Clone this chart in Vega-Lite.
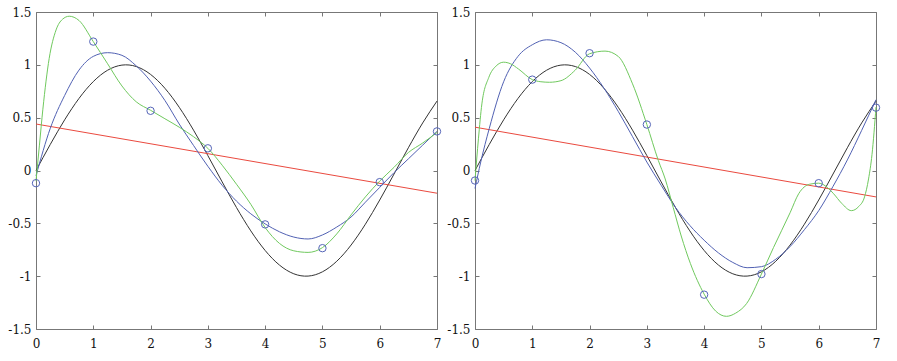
{
  "$schema": "https://vega.github.io/schema/vega-lite/v6.json",
  "background": "white",
  "padding": {"left": 7, "top": 6, "right": 2, "bottom": 2},
  "spacing": 3,
  "config": {
    "view": {"stroke": null},
    "font": "DejaVu Serif",
    "axis": {
      "labelFont": "DejaVu Serif",
      "labelFontSize": 12,
      "labelColor": "#111111",
      "domainColor": "#777777",
      "tickColor": "#777777",
      "tickSize": -4,
      "grid": false,
      "labelFlush": false
    }
  },
  "datasets": {
    "sine": [
      {"x": 0, "y": 0}, {"x": 0.25, "y": 0.2474}, {"x": 0.5, "y": 0.4794}, {"x": 0.75, "y": 0.6816},
      {"x": 1, "y": 0.8415}, {"x": 1.25, "y": 0.949}, {"x": 1.5, "y": 0.9975}, {"x": 1.75, "y": 0.984},
      {"x": 2, "y": 0.9093}, {"x": 2.25, "y": 0.7781}, {"x": 2.5, "y": 0.5985}, {"x": 2.75, "y": 0.3817},
      {"x": 3, "y": 0.1411}, {"x": 3.25, "y": -0.1082}, {"x": 3.5, "y": -0.3508}, {"x": 3.75, "y": -0.5716},
      {"x": 4, "y": -0.7568}, {"x": 4.25, "y": -0.895}, {"x": 4.5, "y": -0.9775}, {"x": 4.75, "y": -0.9993},
      {"x": 5, "y": -0.9589}, {"x": 5.25, "y": -0.8589}, {"x": 5.5, "y": -0.7055}, {"x": 5.75, "y": -0.5082},
      {"x": 6, "y": -0.2794}, {"x": 6.25, "y": -0.0332}, {"x": 6.5, "y": 0.2151}, {"x": 6.75, "y": 0.45},
      {"x": 7, "y": 0.657}
    ],
    "fitsL": [
      {"series": "linear", "x": 0, "y": 0.44}, {"series": "linear", "x": 7, "y": -0.215},
      {"series": "cubic", "x": 0, "y": -0.05}, {"series": "cubic", "x": 0.25, "y": 0.4}, {"series": "cubic", "x": 0.5, "y": 0.71},
      {"series": "cubic", "x": 0.75, "y": 0.95}, {"series": "cubic", "x": 1, "y": 1.08}, {"series": "cubic", "x": 1.25, "y": 1.115},
      {"series": "cubic", "x": 1.5, "y": 1.09}, {"series": "cubic", "x": 1.75, "y": 0.99}, {"series": "cubic", "x": 2, "y": 0.846},
      {"series": "cubic", "x": 2.25, "y": 0.663}, {"series": "cubic", "x": 2.5, "y": 0.44}, {"series": "cubic", "x": 2.75, "y": 0.237},
      {"series": "cubic", "x": 3, "y": 0.04}, {"series": "cubic", "x": 3.25, "y": -0.14}, {"series": "cubic", "x": 3.5, "y": -0.29},
      {"series": "cubic", "x": 3.75, "y": -0.41}, {"series": "cubic", "x": 4, "y": -0.505}, {"series": "cubic", "x": 4.25, "y": -0.58},
      {"series": "cubic", "x": 4.5, "y": -0.63}, {"series": "cubic", "x": 4.75, "y": -0.648}, {"series": "cubic", "x": 5, "y": -0.61},
      {"series": "cubic", "x": 5.25, "y": -0.535}, {"series": "cubic", "x": 5.5, "y": -0.44}, {"series": "cubic", "x": 5.75, "y": -0.3},
      {"series": "cubic", "x": 6, "y": -0.16}, {"series": "cubic", "x": 6.25, "y": -0.02}, {"series": "cubic", "x": 6.5, "y": 0.11},
      {"series": "cubic", "x": 6.75, "y": 0.24}, {"series": "cubic", "x": 7, "y": 0.37},
      {"series": "high", "x": 0, "y": -0.1}, {"series": "high", "x": 0.06, "y": 0.24}, {"series": "high", "x": 0.12, "y": 0.58},
      {"series": "high", "x": 0.23, "y": 1.06}, {"series": "high", "x": 0.35, "y": 1.33}, {"series": "high", "x": 0.46, "y": 1.43},
      {"series": "high", "x": 0.58, "y": 1.46}, {"series": "high", "x": 0.75, "y": 1.42}, {"series": "high", "x": 1, "y": 1.22},
      {"series": "high", "x": 1.25, "y": 1.01}, {"series": "high", "x": 1.5, "y": 0.8}, {"series": "high", "x": 1.75, "y": 0.65},
      {"series": "high", "x": 2, "y": 0.57}, {"series": "high", "x": 2.25, "y": 0.49}, {"series": "high", "x": 2.5, "y": 0.41},
      {"series": "high", "x": 2.75, "y": 0.32}, {"series": "high", "x": 3, "y": 0.21}, {"series": "high", "x": 3.25, "y": 0.05},
      {"series": "high", "x": 3.5, "y": -0.13}, {"series": "high", "x": 3.75, "y": -0.32}, {"series": "high", "x": 4, "y": -0.54},
      {"series": "high", "x": 4.25, "y": -0.69}, {"series": "high", "x": 4.5, "y": -0.76}, {"series": "high", "x": 4.75, "y": -0.775},
      {"series": "high", "x": 5, "y": -0.73}, {"series": "high", "x": 5.25, "y": -0.6}, {"series": "high", "x": 5.5, "y": -0.42},
      {"series": "high", "x": 5.75, "y": -0.25}, {"series": "high", "x": 6, "y": -0.1}, {"series": "high", "x": 6.25, "y": 0.03},
      {"series": "high", "x": 6.5, "y": 0.17}, {"series": "high", "x": 6.75, "y": 0.26}, {"series": "high", "x": 7, "y": 0.36}
    ],
    "ptsL": [
      {"x": 0, "y": -0.12}, {"x": 1, "y": 1.22}, {"x": 2, "y": 0.565}, {"x": 3, "y": 0.21},
      {"x": 4, "y": -0.51}, {"x": 5, "y": -0.735}, {"x": 6, "y": -0.11}, {"x": 7, "y": 0.37}
    ],
    "fitsR": [
      {"series": "linear", "x": 0, "y": 0.41}, {"series": "linear", "x": 7, "y": -0.25},
      {"series": "cubic", "x": 0, "y": -0.17}, {"series": "cubic", "x": 0.1, "y": 0.08}, {"series": "cubic", "x": 0.25, "y": 0.4},
      {"series": "cubic", "x": 0.5, "y": 0.84}, {"series": "cubic", "x": 0.75, "y": 1.08}, {"series": "cubic", "x": 1, "y": 1.19},
      {"series": "cubic", "x": 1.25, "y": 1.237}, {"series": "cubic", "x": 1.5, "y": 1.21}, {"series": "cubic", "x": 1.75, "y": 1.12},
      {"series": "cubic", "x": 2, "y": 0.97}, {"series": "cubic", "x": 2.25, "y": 0.78}, {"series": "cubic", "x": 2.5, "y": 0.56},
      {"series": "cubic", "x": 2.75, "y": 0.32}, {"series": "cubic", "x": 3, "y": 0.08}, {"series": "cubic", "x": 3.25, "y": -0.14},
      {"series": "cubic", "x": 3.5, "y": -0.35}, {"series": "cubic", "x": 3.75, "y": -0.52}, {"series": "cubic", "x": 4, "y": -0.66},
      {"series": "cubic", "x": 4.25, "y": -0.78}, {"series": "cubic", "x": 4.5, "y": -0.87}, {"series": "cubic", "x": 4.75, "y": -0.92},
      {"series": "cubic", "x": 5, "y": -0.91}, {"series": "cubic", "x": 5.25, "y": -0.84}, {"series": "cubic", "x": 5.5, "y": -0.72},
      {"series": "cubic", "x": 5.75, "y": -0.56}, {"series": "cubic", "x": 6, "y": -0.38}, {"series": "cubic", "x": 6.25, "y": -0.15},
      {"series": "cubic", "x": 6.5, "y": 0.1}, {"series": "cubic", "x": 6.75, "y": 0.38}, {"series": "cubic", "x": 7, "y": 0.67},
      {"series": "high", "x": 0, "y": -0.095}, {"series": "high", "x": 0.06, "y": 0.3}, {"series": "high", "x": 0.12, "y": 0.63},
      {"series": "high", "x": 0.24, "y": 0.88}, {"series": "high", "x": 0.37, "y": 0.99}, {"series": "high", "x": 0.5, "y": 1.025},
      {"series": "high", "x": 0.62, "y": 1.01}, {"series": "high", "x": 0.76, "y": 0.96}, {"series": "high", "x": 1, "y": 0.86},
      {"series": "high", "x": 1.15, "y": 0.84}, {"series": "high", "x": 1.3, "y": 0.835}, {"series": "high", "x": 1.5, "y": 0.85},
      {"series": "high", "x": 1.75, "y": 0.95}, {"series": "high", "x": 2, "y": 1.105}, {"series": "high", "x": 2.27, "y": 1.13},
      {"series": "high", "x": 2.5, "y": 1.08}, {"series": "high", "x": 2.75, "y": 0.82}, {"series": "high", "x": 3, "y": 0.435},
      {"series": "high", "x": 3.2, "y": 0.095}, {"series": "high", "x": 3.32, "y": -0.08}, {"series": "high", "x": 3.46, "y": -0.35},
      {"series": "high", "x": 3.6, "y": -0.62}, {"series": "high", "x": 3.76, "y": -0.88}, {"series": "high", "x": 4, "y": -1.17},
      {"series": "high", "x": 4.2, "y": -1.33}, {"series": "high", "x": 4.39, "y": -1.38}, {"series": "high", "x": 4.55, "y": -1.35},
      {"series": "high", "x": 4.74, "y": -1.26}, {"series": "high", "x": 5, "y": -0.98}, {"series": "high", "x": 5.21, "y": -0.73},
      {"series": "high", "x": 5.5, "y": -0.4}, {"series": "high", "x": 5.65, "y": -0.22}, {"series": "high", "x": 5.84, "y": -0.13},
      {"series": "high", "x": 6, "y": -0.12}, {"series": "high", "x": 6.15, "y": -0.16}, {"series": "high", "x": 6.26, "y": -0.22},
      {"series": "high", "x": 6.4, "y": -0.31}, {"series": "high", "x": 6.57, "y": -0.38}, {"series": "high", "x": 6.7, "y": -0.34},
      {"series": "high", "x": 6.8, "y": -0.25}, {"series": "high", "x": 6.87, "y": -0.08}, {"series": "high", "x": 6.93, "y": 0.15},
      {"series": "high", "x": 7, "y": 0.6}
    ],
    "ptsR": [
      {"x": 0, "y": -0.095}, {"x": 1, "y": 0.86}, {"x": 2, "y": 1.11}, {"x": 3, "y": 0.435},
      {"x": 4, "y": -1.175}, {"x": 5, "y": -0.98}, {"x": 6, "y": -0.12}, {"x": 7, "y": 0.595}
    ]
  },
  "hconcat": [
    {
      "width": 401,
      "height": 317,
      "layer": [
        {
          "data": {"name": "sine"},
          "mark": {"type": "line", "color": "#333333", "strokeWidth": 1, "interpolate": "natural"},
          "encoding": {
            "x": {"field": "x", "type": "quantitative", "scale": {"domain": [0, 7], "nice": false, "zero": false},
                  "axis": {"orient": "bottom", "title": null, "values": [0, 1, 2, 3, 4, 5, 6, 7], "labelPadding": 13, "labelExpr": "'' + datum.value"}},
            "y": {"field": "y", "type": "quantitative", "scale": {"domain": [-1.5, 1.5], "nice": false, "zero": false},
                  "axis": {"orient": "left", "title": null, "values": [-1.5, -1, -0.5, 0, 0.5, 1, 1.5], "labelPadding": 9, "labelExpr": "'' + datum.value"}}
          }
        },
        {
          "data": {"name": "fitsL"},
          "mark": {"type": "line", "strokeWidth": 1, "interpolate": "monotone"},
          "encoding": {
            "x": {"field": "x", "type": "quantitative", "axis": null},
            "y": {"field": "y", "type": "quantitative", "axis": null},
            "color": {"field": "series", "type": "nominal", "legend": null,
                      "scale": {"domain": ["linear", "cubic", "high"], "range": ["#ea4a3f", "#5161b3", "#70c95e"]}}
          }
        },
        {
          "data": {"name": "ptsL"},
          "mark": {"type": "point", "color": "#5565b8", "size": 55, "strokeWidth": 1, "filled": false, "opacity": 1},
          "encoding": {
            "x": {"field": "x", "type": "quantitative", "axis": {"orient": "top", "title": null, "labels": false, "values": [0, 1, 2, 3, 4, 5, 6, 7]}},
            "y": {"field": "y", "type": "quantitative", "axis": {"orient": "right", "title": null, "labels": false, "values": [-1.5, -1, -0.5, 0, 0.5, 1, 1.5]}}
          }
        }
      ],
      "resolve": {"axis": {"x": "independent", "y": "independent"}}
    },
    {
      "width": 401,
      "height": 317,
      "layer": [
        {
          "data": {"name": "sine"},
          "mark": {"type": "line", "color": "#333333", "strokeWidth": 1, "interpolate": "natural"},
          "encoding": {
            "x": {"field": "x", "type": "quantitative", "scale": {"domain": [0, 7], "nice": false, "zero": false},
                  "axis": {"orient": "bottom", "title": null, "values": [0, 1, 2, 3, 4, 5, 6, 7], "labelPadding": 13, "labelExpr": "'' + datum.value"}},
            "y": {"field": "y", "type": "quantitative", "scale": {"domain": [-1.5, 1.5], "nice": false, "zero": false},
                  "axis": {"orient": "left", "title": null, "values": [-1.5, -1, -0.5, 0, 0.5, 1, 1.5], "labelPadding": 9, "labelExpr": "'' + datum.value"}}
          }
        },
        {
          "data": {"name": "fitsR"},
          "mark": {"type": "line", "strokeWidth": 1, "interpolate": "monotone"},
          "encoding": {
            "x": {"field": "x", "type": "quantitative", "axis": null},
            "y": {"field": "y", "type": "quantitative", "axis": null},
            "color": {"field": "series", "type": "nominal", "legend": null,
                      "scale": {"domain": ["linear", "cubic", "high"], "range": ["#ea4a3f", "#5161b3", "#70c95e"]}}
          }
        },
        {
          "data": {"name": "ptsR"},
          "mark": {"type": "point", "color": "#5565b8", "size": 55, "strokeWidth": 1, "filled": false, "opacity": 1},
          "encoding": {
            "x": {"field": "x", "type": "quantitative", "axis": {"orient": "top", "title": null, "labels": false, "values": [0, 1, 2, 3, 4, 5, 6, 7]}},
            "y": {"field": "y", "type": "quantitative", "axis": {"orient": "right", "title": null, "labels": false, "values": [-1.5, -1, -0.5, 0, 0.5, 1, 1.5]}}
          }
        }
      ],
      "resolve": {"axis": {"x": "independent", "y": "independent"}}
    }
  ]
}
